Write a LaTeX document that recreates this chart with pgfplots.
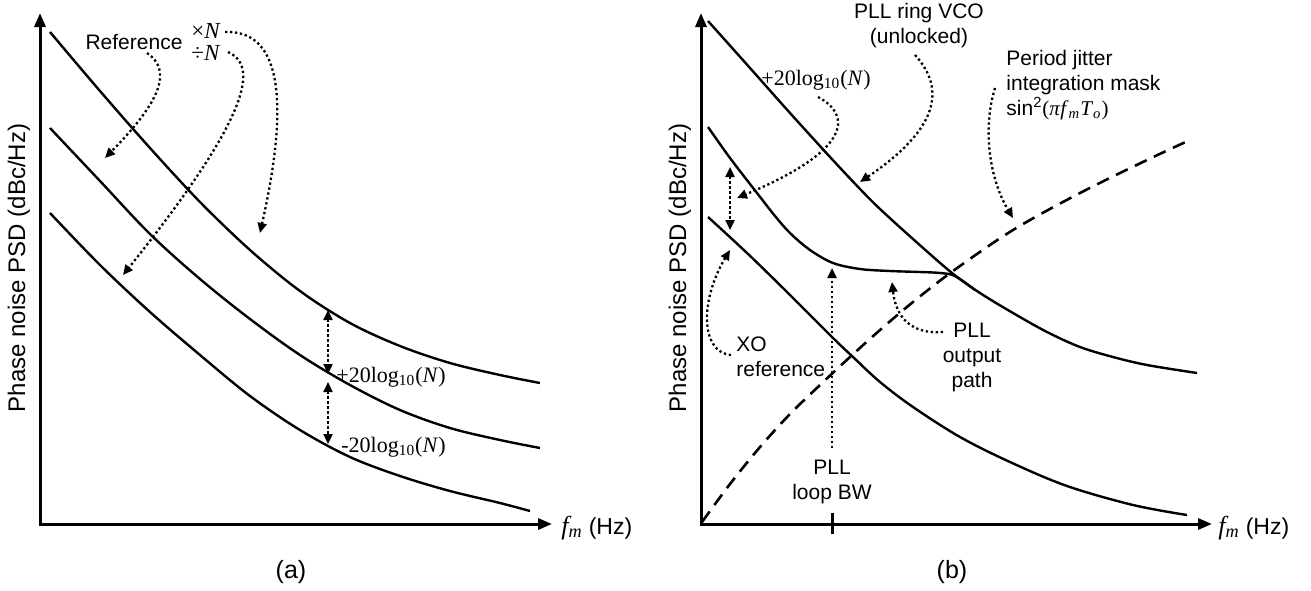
\documentclass[border=0pt]{standalone}
\usepackage{fontspec}
\setmainfont{Liberation Sans}
\newfontfamily\tms{Liberation Serif}
\usepackage{pgfplots}
\pgfplotsset{compat=1.18}
\usetikzlibrary{arrows.meta}

% annotation styles
\tikzset{
  lbl/.style={font=\fontsize{10.5}{12.5}\selectfont, inner sep=0pt},
  dotarrow/.style={line width=1.15pt, dash pattern=on 1.15pt off 1.35pt,
    -{Triangle[length=5pt,width=4.5pt]}},
  dotboth/.style={line width=1.15pt, dash pattern=on 1.15pt off 1.35pt,
    {Triangle[length=5pt,width=4.5pt]}-{Triangle[length=5pt,width=4.5pt]}},
  axarrow/.style={line width=1.5pt,
    {Triangle[length=7pt,width=5.5pt]}-{Triangle[length=7pt,width=5.5pt]}},
  curve/.style={black, line width=1.2pt, smooth, tension=0.55, no markers},
}

\begin{document}
\begin{tikzpicture}
\begin{axis}[
  width=655.5pt, height=295pt, scale only axis,
  xmin=0, xmax=1311, ymin=0, ymax=590, y dir=reverse,
  hide axis, clip=false,
]
\path (0,0) rectangle (1311,590);

% ---------------- panel (a) ----------------
\draw[axarrow] (40,13) -- (40,524) -- (552,524);

% multiplied reference
\addplot[curve] coordinates {
  (50,32) (100,91) (150,148) (200,202) (250,250) (300,291) (350,323)
  (400,346) (450,363) (500,375) (540,383)
};
% reference
\addplot[curve] coordinates {
  (50,128) (100,181) (150,234) (200,279) (250,319) (300,355) (350,385)
  (400,410) (450,428) (500,440) (540,448)
};
% divided reference
\addplot[curve] coordinates {
  (50,213) (100,265) (150,312) (200,355) (250,396) (300,430) (350,457)
  (400,476) (450,491) (500,503) (530,511)
};

\node[lbl] at (134,42) {Reference};
\node[lbl, anchor=west] at (191,31) {{\tms\fontsize{11.5}{13}\selectfont ×\textit{N}}};
\node[lbl, anchor=west] at (191,53) {{\tms\fontsize{11.5}{13}\selectfont ÷\textit{N}}};
\draw[dotarrow] (147,53) .. controls (172,70) and (162,100) .. (105,158);
\draw[dotarrow] (228,52) .. controls (257,65) and (255,110) .. (123,275);
\draw[dotarrow] (225,32) .. controls (277,30) and (292,90) .. (260,233);

\draw[dotboth] (328,310) -- (328,374);
\draw[dotboth] (328,382) -- (328,444);
\node[lbl, anchor=west] at (336,377) {{\tms\fontsize{11}{13}\selectfont +20log\textsubscript{10}(\textit{N})}};
\node[lbl, anchor=west] at (341,447) {{\tms\fontsize{11}{13}\selectfont -20log\textsubscript{10}(\textit{N})}};

\node[rotate=90, inner sep=0pt, font=\fontsize{12}{14}\selectfont] at (19,268) {Phase noise PSD (dBc/Hz)};
\node[lbl, anchor=west] at (561,528) {{\tms\itshape\fontsize{13}{15}\selectfont f\textsubscript{m}}\hspace{3pt}{\fontsize{11.5}{13}\selectfont(Hz)}};
\node[inner sep=0pt, font=\fontsize{12.5}{14}\selectfont] at (291,572) {(a)};

% ---------------- panel (b) ----------------
\draw[axarrow] (701,13) -- (701,524) -- (1212,524);
\draw[line width=1.5pt] (832,513) -- (832,534);

% PLL ring VCO (unlocked)
\addplot[curve] coordinates {
  (708,21) (750,68) (790,113) (830,157) (860,189) (880,209) (913,239)
  (952,273) (980,293) (1013,313) (1047,332) (1080,347) (1113,357)
  (1147,365) (1197,373)
};
% PLL output path
\addplot[curve] coordinates {
  (708,127) (730,158) (757,193) (775,216) (790,233) (810,250) (833,263)
  (860,269) (890,271) (920,272) (940,273) (955,276) (975,290)
};
% XO reference
\addplot[curve] coordinates {
  (708,217) (747,253) (787,292) (832,337) (853,357) (880,382) (913,407)
  (960,437) (1010,462) (1067,486) (1133,505) (1187,515)
};
% period jitter integration mask
\addplot[black, line width=1.3pt, smooth, tension=0.55, dash pattern=on 6.5pt off 4pt] coordinates {
  (702,522) (730,484) (760,447) (790,414) (820,385) (850,357) (880,330)
  (913,302) (953,271) (1013,230) (1080,193) (1147,160) (1190,140)
};

\node[lbl, align=center] at (919,26) {PLL ring VCO\\(unlocked)};
\draw[dotarrow] (915,55) .. controls (947,90) and (937,130) .. (860,182);

\node[lbl, anchor=west] at (761,80) {{\tms\fontsize{11}{13}\selectfont +20log\textsubscript{10}(\textit{N})}};
\draw[dotarrow] (818,97) .. controls (852,115) and (852,150) .. (737,198);
\draw[dotboth] (730,167) -- (730,230);

\node[lbl, anchor=west, align=left] at (736,357) {XO\\reference};
\draw[dotarrow] (731,355) .. controls (700,352) and (700,300) .. (730,250);

\draw[dotarrow] (832,448) -- (832,268);
\node[lbl, align=center] at (832,482) {PLL\\loop BW};

\node[lbl, align=center] at (972,357) {PLL\\output\\path};
\draw[dotarrow] (943,332) .. controls (905,335) and (895,310) .. (892,282);

\node[lbl, anchor=west, align=left] at (1006,85) {Period jitter\\integration mask\\sin\textsuperscript{2}{\tms(\textit{π}\textit{f}\textsubscript{\textit{m}}\textit{T}\textsubscript{\textit{o}})}};
\draw[dotarrow] (995,88) .. controls (982,130) and (990,180) .. (1013,218);

\node[rotate=90, inner sep=0pt, font=\fontsize{12}{14}\selectfont] at (680,268) {Phase noise PSD (dBc/Hz)};
\node[lbl, anchor=west] at (1218,528) {{\tms\itshape\fontsize{13}{15}\selectfont f\textsubscript{m}}\hspace{3pt}{\fontsize{11.5}{13}\selectfont(Hz)}};
\node[inner sep=0pt, font=\fontsize{12.5}{14}\selectfont] at (952,572) {(b)};
\end{axis}
\end{tikzpicture}
\end{document}
